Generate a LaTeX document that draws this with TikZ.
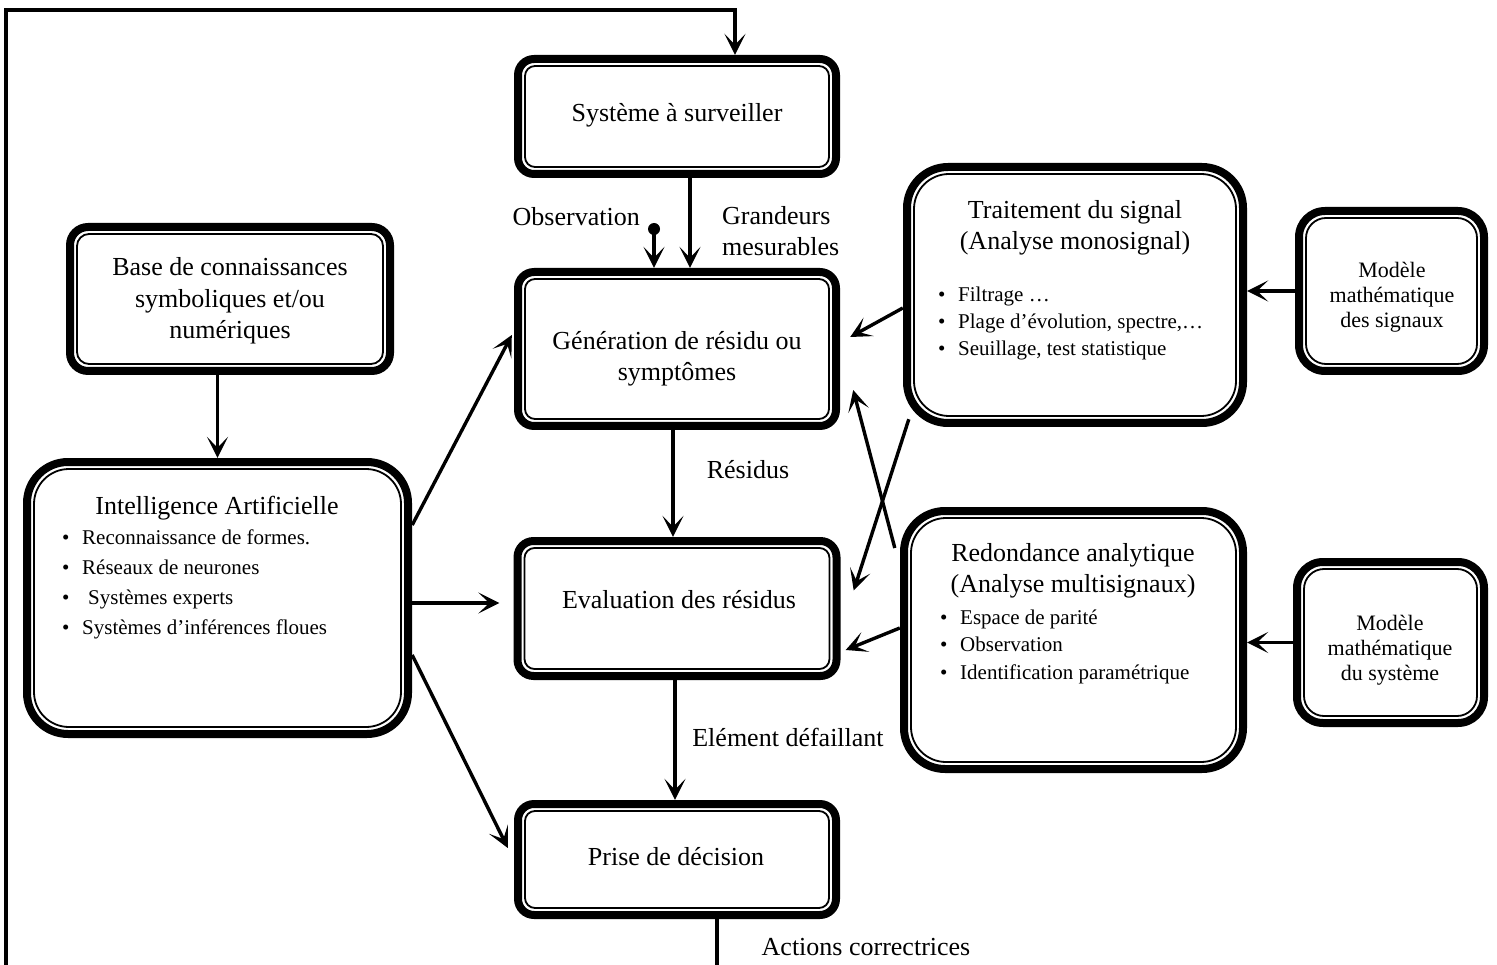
\documentclass[tikz,border=0pt]{standalone}
\usepackage{fontspec}
\setmainfont{Liberation Serif}
\usetikzlibrary{arrows.meta}

% bullet item for the lists inside the boxes
\newcommand\itm[1]{\makebox[20pt][l]{•}#1}

\tikzset{
  % rounded box with a heavy outer rule and a thin inner rule
  dbox/.style n args={4}{%
    minimum width=#1, minimum height=#2, inner sep=0pt, fill=white,
    rounded corners=#3,
    path picture={
      \draw[line width=16pt, rounded corners=#3]
        (path picture bounding box.south west) rectangle
        (path picture bounding box.north east);
      \draw[line width=1.8pt, rounded corners=#4]
        ([shift={(11pt,11pt)}]path picture bounding box.south west) rectangle
        ([shift={(-11pt,-11pt)}]path picture bounding box.north east);
    }},
  big/.style={font=\fontsize{26}{31.5}\selectfont, align=center, inner sep=0pt},
  mid/.style={font=\fontsize{22}{25}\selectfont, align=center, inner sep=0pt},
  lst/.style={font=\fontsize{21}{#1}\selectfont, align=left, inner sep=0pt, anchor=west},
  arr/.style={line width=3.4pt, -{Stealth[length=21pt,width=21pt,inset=11pt]}},
}

\begin{document}
\begin{tikzpicture}[x=1pt, y=-1pt]
\useasboundingbox (0,0) rectangle (1497,965);
\clip (0,0) rectangle (1497,965);

% ---- central chain
\node[dbox={326pt}{123pt}{20pt}{10pt}] (sys)   at (677,116.5) {};
\node[dbox={326pt}{162pt}{20pt}{10pt}] (gen)   at (677,349)   {};
\node[dbox={327pt}{143pt}{20pt}{10pt}] (eval)  at (677,608.5) {};
\node[dbox={326pt}{119pt}{20pt}{10pt}] (prise) at (677,859.5) {};

\node[big] (tsys)   at (677,115)   {Système à surveiller};
\node[big] (tgen)   at (677,359)   {Génération de résidu ou\\symptômes};
\node[big] (teval)  at (679,600)   {Evaluation des résidus};
\node[big] (tprise) at (676,857)   {Prise de décision};

% ---- left column
\node[dbox={328pt}{152pt}{22pt}{12pt}] (base) at (230,299)   {};
\node[dbox={389pt}{280pt}{45pt}{35pt}] (ia)   at (217.5,598) {};

\node[big] (tbase) at (230,301) {Base de connaissances\\symboliques et/ou\\numériques};
\node[big] (tia)   at (217,508) {Intelligence Artificielle};
\node[lst=30] (lia) at (62,584) {\itm{Reconnaissance de formes.}\\
  \itm{Réseaux de neurones}\\
  \itm{\hspace{6pt}Systèmes experts}\\
  \itm{Systèmes d’inférences floues}};

% ---- right column
\node[dbox={344pt}{264pt}{45pt}{35pt}] (trait) at (1075,295)   {};
\node[dbox={347pt}{266pt}{45pt}{35pt}] (redo)  at (1073.5,640) {};
\node[dbox={193pt}{168pt}{30pt}{20pt}] (msig)  at (1391.5,291) {};
\node[dbox={195pt}{169pt}{30pt}{20pt}] (msys)  at (1390.5,642.5) {};

\node[big] (ttrait) at (1075,228) {Traitement du signal\\(Analyse monosignal)};
\node[lst=27] (ltrait) at (938,323) {\itm{Filtrage …}\\
  \itm{Plage d’évolution, spectre,…}\\
  \itm{Seuillage, test statistique}};
\node[big] (tredo) at (1073,571) {Redondance analytique\\(Analyse multisignaux)};
\node[lst=27.5] (lredo) at (940,646.5) {\itm{Espace de parité}\\
  \itm{Observation}\\
  \itm{Identification paramétrique}};
\node[mid] (tmsig) at (1392,297) {Modèle\\mathématique\\des signaux};
\node[mid] (tmsys) at (1390,650) {Modèle\\mathématique\\du système};

% ---- connector labels
\node[big, anchor=east] (lobs) at (640,217) {Observation};
\node[big, anchor=west, align=left] (lgr) at (722,231) {Grandeurs\\mesurables};
\node[big] (lres) at (748,470) {Résidus};
\node[big] (lelt) at (788,737) {Elément défaillant};
\node[big] (lact) at (866,947) {Actions correctrices};

% ---- connectors of the chain
\node[circle, fill, inner sep=0pt, minimum size=12pt] (obs) at (654,229) {};
\draw[arr] (obs.center) -- ([xshift=-23pt]gen.north);
\draw[arr] ([xshift=13pt]sys.south) -- ([xshift=13pt]gen.north);
\draw[arr] ([xshift=-4pt]gen.south) -- ([xshift=-4pt]eval.north);
\draw[arr] ([xshift=-2pt]eval.south) -- ([xshift=-2pt]prise.north);

% feedback loop: corrective actions back to the monitored system
\coordinate (fb1) at (717,980);
\coordinate (fb2) at (6,980);
\coordinate (fb3) at (6,10);
\coordinate (fb4) at (735,10);
\draw[arr] ([xshift=40pt]prise.south) -- (fb1) -- (fb2) -- (fb3) -- (fb4)
  -- ([xshift=58pt]sys.north);

% ---- left column connectors
\draw[arr] (base.south -| ia.north) -- (ia.north);
\draw[arr] ([yshift=73pt]ia.east) -- ([shift={(-2pt,14pt)}]gen.west);
\draw[arr] ([yshift=-5pt]ia.east) -- ([shift={(-14pt,5.5pt)}]eval.west);
\draw[arr] ([yshift=-57pt]ia.east) -- ([shift={(-6pt,11.5pt)}]prise.west);

% ---- right column connectors
\draw[arr] (msig.west) -- (msig.west -| trait.east);
\draw[arr] (msys.west) -- (msys.west -| redo.east);
\draw[arr] ([yshift=-13pt]trait.west) -- ([shift={(10pt,12pt)}]gen.east);
\draw[arr] ([shift={(6pt,8pt)}]trait.south west) -- ([shift={(13pt,18pt)}]eval.east);
\draw[arr] ([shift={(-5pt,92pt)}]redo.west) -- ([shift={(13pt,-41pt)}]gen.east);
\draw[arr] ([yshift=12pt]redo.west) -- ([shift={(5pt,-41.5pt)}]eval.east);
\end{tikzpicture}
\end{document}
